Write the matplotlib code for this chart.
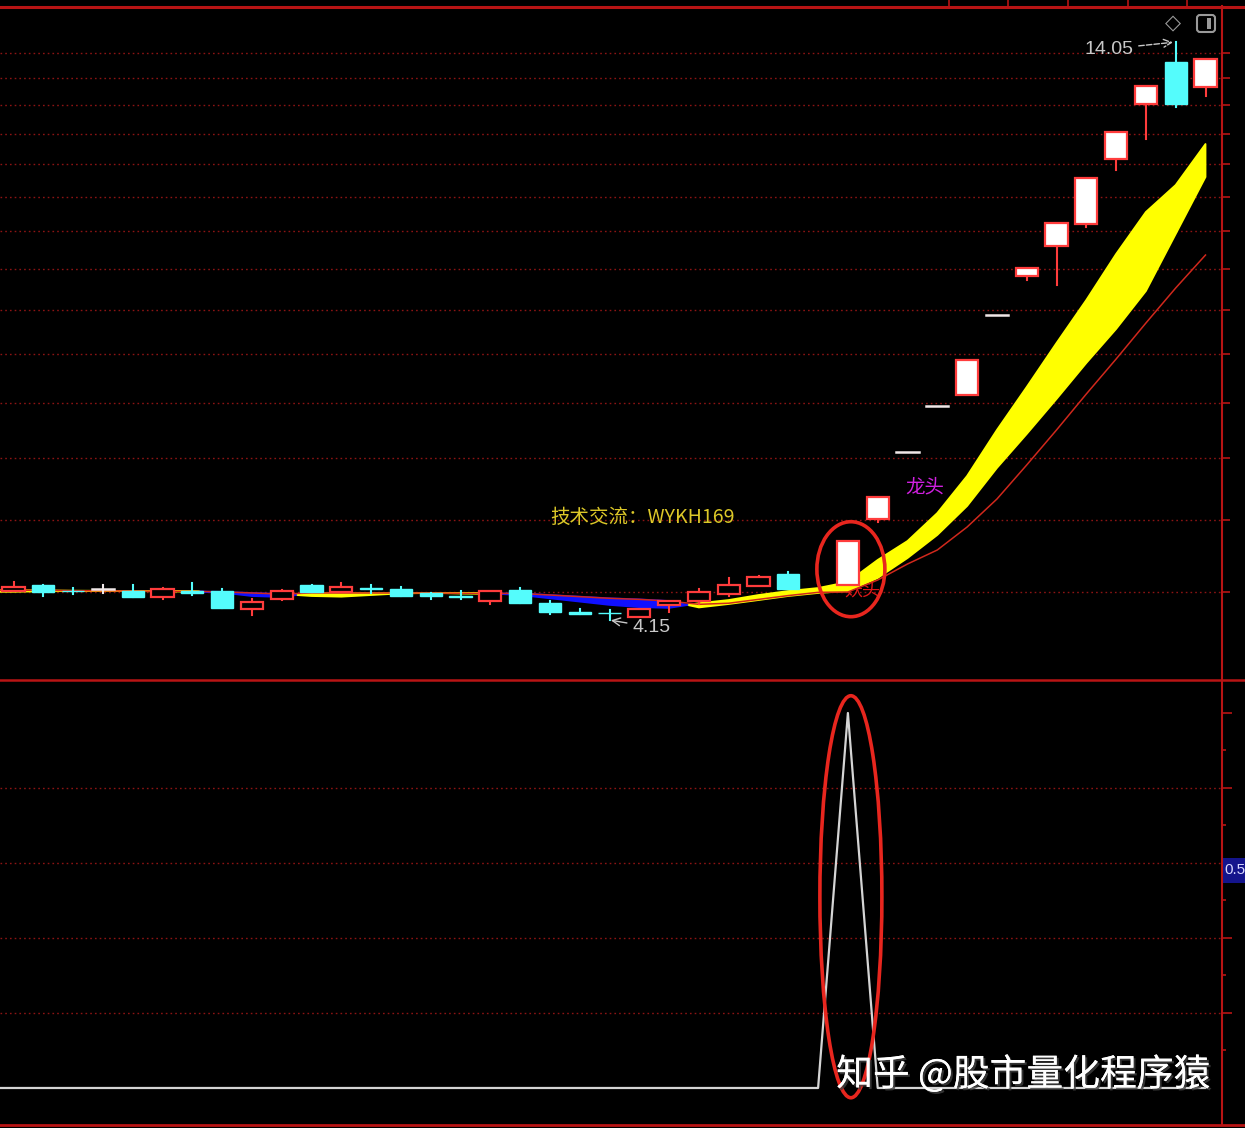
import numpy as np
import matplotlib
matplotlib.use("Agg")
import matplotlib.pyplot as plt
from matplotlib.patches import Ellipse, Rectangle, FancyBboxPatch
from matplotlib.lines import Line2D
from matplotlib.transforms import IdentityTransform
from matplotlib.ticker import FixedLocator, NullLocator
import matplotlib.patheffects as pe

plt.rcParams['font.family'] = ['Noto Sans CJK SC', 'DejaVu Sans']

# ---------------- data ----------------
days = list(range(41))
opens = [4.412, 4.469, 4.412, 4.431, 4.412, 4.357, 4.412, 4.412, 4.248, 4.338,
         4.469, 4.403, 4.440, 4.431, 4.394, 4.366, 4.320, 4.422, 4.302, 4.221,
         4.212, 4.177, 4.284, 4.320, 4.384, 4.459, 4.573, np.nan, 4.468, 5.136,
         5.916, 6.519, 6.672, 7.898, 8.576, 9.136, 9.570, 10.977, 12.327, 13.470,
         12.777]
highs = [4.497, 4.469, 4.440, 4.469, 4.469, 4.440, 4.487, 4.431, 4.338, 4.422,
         4.469, 4.487, 4.469, 4.450, 4.394, 4.412, 4.412, 4.440, 4.320, 4.248,
         4.239, 4.248, 4.320, 4.431, 4.535, 4.554, 4.593, np.nan, 4.903, 5.380,
         5.916, 6.519, 7.183, 7.898, 8.722, 9.590, 10.546, 11.620, 12.805, 14.05,
         13.555]
lows = [4.412, 4.366, 4.384, 4.394, 4.357, 4.338, 4.375, 4.257, 4.194, 4.329,
        4.403, 4.403, 4.394, 4.366, 4.338, 4.338, 4.293, 4.302, 4.203, 4.203,
        4.150, 4.177, 4.221, 4.293, 4.366, 4.459, 4.431, np.nan, 4.468, 5.104,
        5.916, 6.519, 6.672, 7.898, 8.504, 8.414, 9.510, 10.725, 11.450, 12.250,
        12.537]
closes = [4.450, 4.403, 4.410, 4.431, 4.357, 4.431, 4.394, 4.257, 4.311, 4.412,
          4.403, 4.450, 4.431, 4.366, 4.366, 4.357, 4.412, 4.302, 4.221, 4.203,
          4.208, 4.248, 4.320, 4.403, 4.469, 4.545, 4.431, np.nan, 4.903, 5.380,
          5.916, 6.519, 7.183, 7.898, 8.722, 9.590, 10.546, 11.620, 12.805, 12.327,
          13.555]
band_fast = [4.420, 4.418, 4.415, 4.414, 4.412, 4.410, 4.410, 4.398, 4.366, 4.357,
             4.394, 4.394, 4.394, 4.394, 4.394, 4.392, 4.390, 4.375, 4.345, 4.315,
             4.285, 4.265, 4.258, 4.300, 4.329, 4.375, 4.412, 4.440, 4.497, 4.711,
             4.903, 5.201, 5.624, 6.197, 6.785, 7.445, 8.152, 8.983, 9.816, 10.391,
             11.330]
band_slow = [4.405, 4.410, 4.412, 4.413, 4.412, 4.410, 4.408, 4.404, 4.394, 4.384,
             4.366, 4.360, 4.375, 4.390, 4.394, 4.390, 4.388, 4.390, 4.375, 4.360,
             4.345, 4.335, 4.320, 4.262, 4.293, 4.329, 4.366, 4.394, 4.412, 4.535,
             4.730, 4.966, 5.279, 5.720, 6.145, 6.616, 7.138, 7.669, 8.309, 9.371,
             10.568]
ma_red = [4.420, 4.418, 4.415, 4.414, 4.412, 4.410, 4.410, 4.404, 4.394, 4.384,
          4.394, 4.394, 4.394, 4.394, 4.394, 4.392, 4.390, 4.390, 4.375, 4.360,
          4.345, 4.335, 4.320, 4.290, 4.300, 4.335, 4.370, 4.400, 4.403, 4.516,
          4.671, 4.811, 5.050, 5.357, 5.756, 6.197, 6.686, 7.198, 7.766, 8.362,
          8.964]
signal = [0]*28 + [1] + [0]*12

price_grid = [4.403, 5.120, 5.838, 6.555, 7.272, 7.990, 8.707, 9.424, 10.141,
              10.859, 11.576, 12.293, 13.011, 13.728]
sig_major = [0.2, 0.4, 0.6, 0.8, 1.0]
sig_minor = [0.1, 0.3, 0.5, 0.7, 0.9]
sig_grid = [0.2, 0.4, 0.6, 0.8]

# ---------------- layout ----------------
W, H, DPI = 1245, 1128, 100
fig = plt.figure(figsize=(W / DPI, H / DPI), dpi=DPI, facecolor='black')

def fx(px):
    return px / W

def fy(py):
    return 1 - py / H

AX_R = 1222
SP = 29.8
X0 = 13.5
XL = -X0 / SP
ax = fig.add_axes([0, fy(680), fx(AX_R), (680 - 6) / H])
ax2 = fig.add_axes([0, fy(1125), fx(AX_R), (1125 - 680) / H])
AXRED = '#b81414'
GRIDRED = '#8c1414'

for a in (ax, ax2):
    a.set_facecolor('black')
    for s in ('top', 'left', 'bottom'):
        a.spines[s].set_visible(False)
    a.spines['right'].set_color(AXRED)
    a.spines['right'].set_linewidth(1.5)
    a.set_xlim(XL, (AX_R - X0) / SP)
    a.xaxis.set_major_locator(NullLocator())
    a.xaxis.set_minor_locator(NullLocator())

ax.set_yscale('log')
ax.set_ylim(3.657, 15.159)
ax.yaxis.set_major_locator(FixedLocator(price_grid))
ax.yaxis.set_minor_locator(NullLocator())
ax.tick_params(axis='y', which='both', left=False, right=True, labelleft=False,
               labelright=False, direction='out', length=6, width=1.2, color=AXRED)
for g in price_grid:
    ax.axhline(g, color=GRIDRED, lw=1.0, ls=(0, (1.2, 2.2)), zorder=1)

ax2.set_ylim(-0.0987, 1.088)
ax2.yaxis.set_major_locator(FixedLocator(sig_major))
ax2.yaxis.set_minor_locator(FixedLocator(sig_minor))
ax2.tick_params(axis='y', which='major', left=False, right=True, labelleft=False,
                labelright=False, direction='out', length=7, width=1.2, color=AXRED)
ax2.tick_params(axis='y', which='minor', left=False, right=True, direction='out',
                length=3, width=1.2, color=AXRED)
for g in sig_grid:
    ax2.axhline(g, color=GRIDRED, lw=1.0, ls=(0, (1.2, 2.2)), zorder=1)

# ---------------- band + MA (continued to the left edge) ----------------
d = np.r_[XL, np.array(days, dtype=float)]
f = np.r_[band_fast[0], band_fast]
s = np.r_[band_slow[0], band_slow]
r = np.r_[ma_red[0], ma_red]
ax.fill_between(d, f, s, where=f >= s, interpolate=True, color='#ffff00',
                lw=1.3, zorder=3)
ax.fill_between(d, f, s, where=f < s, interpolate=True, color='#1010ff',
                lw=1.3, zorder=3)
ax.plot(d, r, color='#d0281c', lw=1.1, zorder=3.5)

# ---------------- candles ----------------
BW = 0.74
UP = '#ff3c3c'
DN = '#54fcfc'
for i, o, h, l, c in zip(days, opens, highs, lows, closes):
    if np.isnan(o):
        continue
    if c > o:
        face = 'white' if i >= 28 else 'black'
        ax.add_patch(Rectangle((i - BW / 2, o), BW, c - o, facecolor=face,
                               edgecolor=UP, lw=1.6, zorder=5))
        if h > c:
            ax.plot([i, i], [c, h], color=UP, lw=1.5, zorder=4.9)
        if l < o:
            ax.plot([i, i], [l, o], color=UP, lw=1.5, zorder=4.9)
    elif c < o:
        ax.plot([i, i], [l, h], color=DN, lw=1.5, zorder=4.9)
        ax.add_patch(Rectangle((i - BW / 2, c), BW, o - c, facecolor=DN,
                               edgecolor=DN, lw=1.0, zorder=5))
    else:
        ax.plot([i, i], [l, h], color='#f0e8e8', lw=1.5, zorder=4.9)
        ax.plot([i - BW / 2, i + BW / 2], [o, o], color='#f0e8e8', lw=1.8, zorder=5)

# ---------------- signal panel ----------------
ax2.plot(np.r_[XL, np.array(days, dtype=float)], np.r_[signal[0], signal],
         color='#d4d4d4', lw=1.6, zorder=4)

# ---------------- annotations ----------------
ax.text(21.12, 5.158, '技术交流：WYKH169', color='#dcc828', fontsize=14,
        ha='center', va='center', zorder=6)
ax.text(30.59, 5.495, '龙头', color='#d020e0', fontsize=14, ha='center',
        va='center', zorder=6)
ax.text(28.5, 4.42, '妖头', color='#e01818', fontsize=13, ha='center',
        va='center', zorder=2.5)

lab = dict(color='#c8c8c8', fontsize=14, family=['Liberation Sans', 'DejaVu Sans'])
ax.annotate('14.05', xy=(39, 14.05), xytext=(-67, -7), textcoords='offset pixels',
            ha='center', va='center', zorder=7,
            arrowprops=dict(arrowstyle='->', color='#c8c8c8', lw=1.0,
                            ls=(0, (4, 1.5)), shrinkA=2, shrinkB=2), **lab)
ax.annotate('4.15', xy=(20, 4.15), xytext=(42, -7), textcoords='offset pixels',
            ha='center', va='center', zorder=7,
            arrowprops=dict(arrowstyle='->', color='#c8c8c8', lw=1.0,
                            shrinkA=2, shrinkB=1), **lab)

# ellipses (pixel-sized, anchored on the 28th candle)
fig.canvas.draw()
ELL = '#e8261e'
cx, cy = ax.transData.transform((28.1, 4.62))
fig.add_artist(Ellipse((cx, cy), 68, 95, transform=IdentityTransform(),
                       fill=False, edgecolor=ELL, lw=2.6, zorder=10))
cx2, cy2 = ax2.transData.transform((28.1, 0.51))
fig.add_artist(Ellipse((cx2, cy2), 62, 402, transform=IdentityTransform(),
                       fill=False, edgecolor=ELL, lw=2.6, zorder=10))

# frame lines
for py, lw in ((6.5, 2.2), (680, 1.8), (1125, 2.0)):
    fig.add_artist(Line2D([0, 1], [fy(py), fy(py)], transform=fig.transFigure,
                          color=AXRED, lw=lw, zorder=9))
for px in (949, 1008, 1068, 1128, 1187):
    fig.add_artist(Line2D([fx(px), fx(px)], [fy(0), fy(6)], transform=fig.transFigure,
                          color=AXRED, lw=1.2))

# blue value box on the right axis
fig.add_artist(Rectangle((1223, H - 883), 30, 25, transform=IdentityTransform(),
                         facecolor='#14148c', edgecolor='none', zorder=11))
fig.text(fx(1224), fy(870), '0.5', color='#d8d8ff', fontsize=11, ha='left',
         va='center', family=['Liberation Sans', 'DejaVu Sans'], zorder=12)

# top-right icons
fig.text(fx(1173), fy(23), '◇', color='#9a9a9a', fontsize=15, ha='center',
         va='center', family=['DejaVu Sans'])
fig.add_artist(FancyBboxPatch((1197, H - 32), 18, 17, boxstyle='round,pad=0,rounding_size=3',
                              transform=IdentityTransform(), fill=False,
                              edgecolor='#9a9a9a', lw=1.5))
fig.add_artist(Rectangle((1207, H - 29), 4, 11, transform=IdentityTransform(),
                         facecolor='#9a9a9a', edgecolor='none'))

# watermark
fig.text(fx(1023), fy(1075), '知乎 @股市量化程序猿', color='white', fontsize=26.5,
         ha='center', va='center', zorder=12,
         path_effects=[pe.withSimplePatchShadow(offset=(1.5, -1.5), shadow_rgbFace='#404040', alpha=0.8),
                       pe.Normal()])

fig.savefig('out.png', dpi=DPI, facecolor='black')
